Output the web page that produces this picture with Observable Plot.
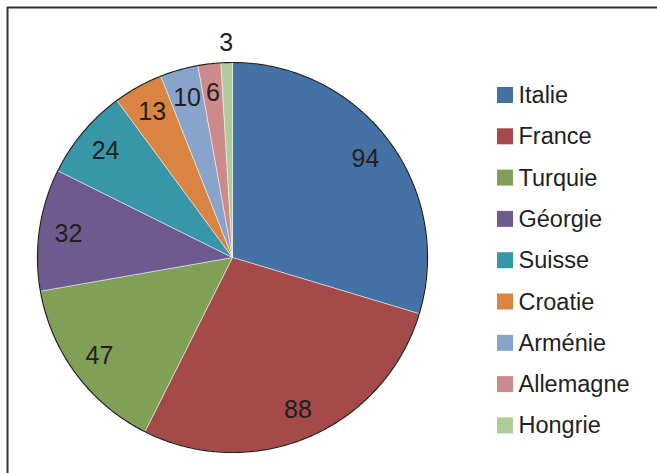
<!DOCTYPE html>
<html><head><meta charset="utf-8">
<script src="https://cdn.jsdelivr.net/npm/d3@7"></script>
<script src="https://cdn.jsdelivr.net/npm/@observablehq/plot@0.6"></script>
<style>
html,body{margin:0;padding:0;background:#fff;}
</style>
</head><body><div id="chart"></div>
<script>
const countries = ["Italie","France","Turquie","Géorgie","Suisse","Croatie","Arménie","Allemagne","Hongrie"];
const values = [94, 88, 47, 32, 24, 13, 10, 6, 3];
const colors = ["#4472A5","#A44A48","#80A057","#6D5A8F","#3797A8","#D98443","#88A4CB","#CC8A8A","#AFCB97"];

const W = 657, H = 473, CX = 232, CY = 257, R = 195;
const X = px => (px - CX) / R, Y = py => (py - CY) / R;

const arcs = d3.pie().sort(null).value(d => d.value)(countries.map((c, i) => ({country: c, value: values[i]})));
const total = d3.sum(values);
const slicePts = arcs.flatMap(a => {
  const n = Math.max(2, Math.ceil((a.endAngle - a.startAngle) / 0.01));
  const pts = [{country: a.data.country, x: 0, y: 0}];
  for (let k = 0; k <= n; k++) {
    const t = a.startAngle + (a.endAngle - a.startAngle) * k / n;
    pts.push({country: a.data.country, x: Math.sin(t), y: -Math.cos(t)});
  }
  pts.push({country: a.data.country, x: 0, y: 0});
  return pts;
});
const outline = d3.range(0, 721).map(d => ({x: Math.sin(d * Math.PI / 360), y: -Math.cos(d * Math.PI / 360)}));
const labels = arcs.map(a => {
  const m = (a.startAngle + a.endAngle) / 2;
  const r = a.data.value / total < 0.015 ? 1.1 : 0.85;
  return {label: String(a.data.value), x: r * Math.sin(m), y: -r * Math.cos(m)};
});
const legend = countries.map((c, i) => ({country: c, y: Y(95 + i * 41.3)}));

const chart = Plot.plot({
  width: W, height: H, margin: 0,
  x: {domain: [X(0), X(W)], range: [0, W], axis: null},
  y: {domain: [Y(0), Y(H)], range: [0, H], axis: null},
  color: {domain: countries, range: colors},
  style: {fontFamily: "'Liberation Sans', Arial, sans-serif", background: "#fff"},
  marks: [
    Plot.line(slicePts, {x: "x", y: "y", z: "country", fill: "country", stroke: "#fff", strokeWidth: 0.6, strokeOpacity: 0.8, curve: "linear"}),
    Plot.line(outline, {x: "x", y: "y", stroke: "#222", strokeWidth: 1.2}),
    Plot.text(labels, {x: "x", y: "y", text: "label", fontSize: 25, fill: "#231f20"}),
    Plot.rect(legend, {x1: X(497), x2: X(513), y1: d => d.y - 8 / R, y2: d => d.y + 8 / R, fill: "country"}),
    Plot.text(legend, {x: X(518), y: "y", text: "country", textAnchor: "start", fontSize: 23.5, fill: "#231f20"}),
    Plot.ruleX([X(7)], {y1: Y(7), y2: Y(H + 5), stroke: "#333", strokeWidth: 2}),
    Plot.ruleY([Y(7)], {x1: X(7), x2: X(W + 5), stroke: "#333", strokeWidth: 2})
  ]
});
document.getElementById("chart").appendChild(chart);
</script>
</body></html>
